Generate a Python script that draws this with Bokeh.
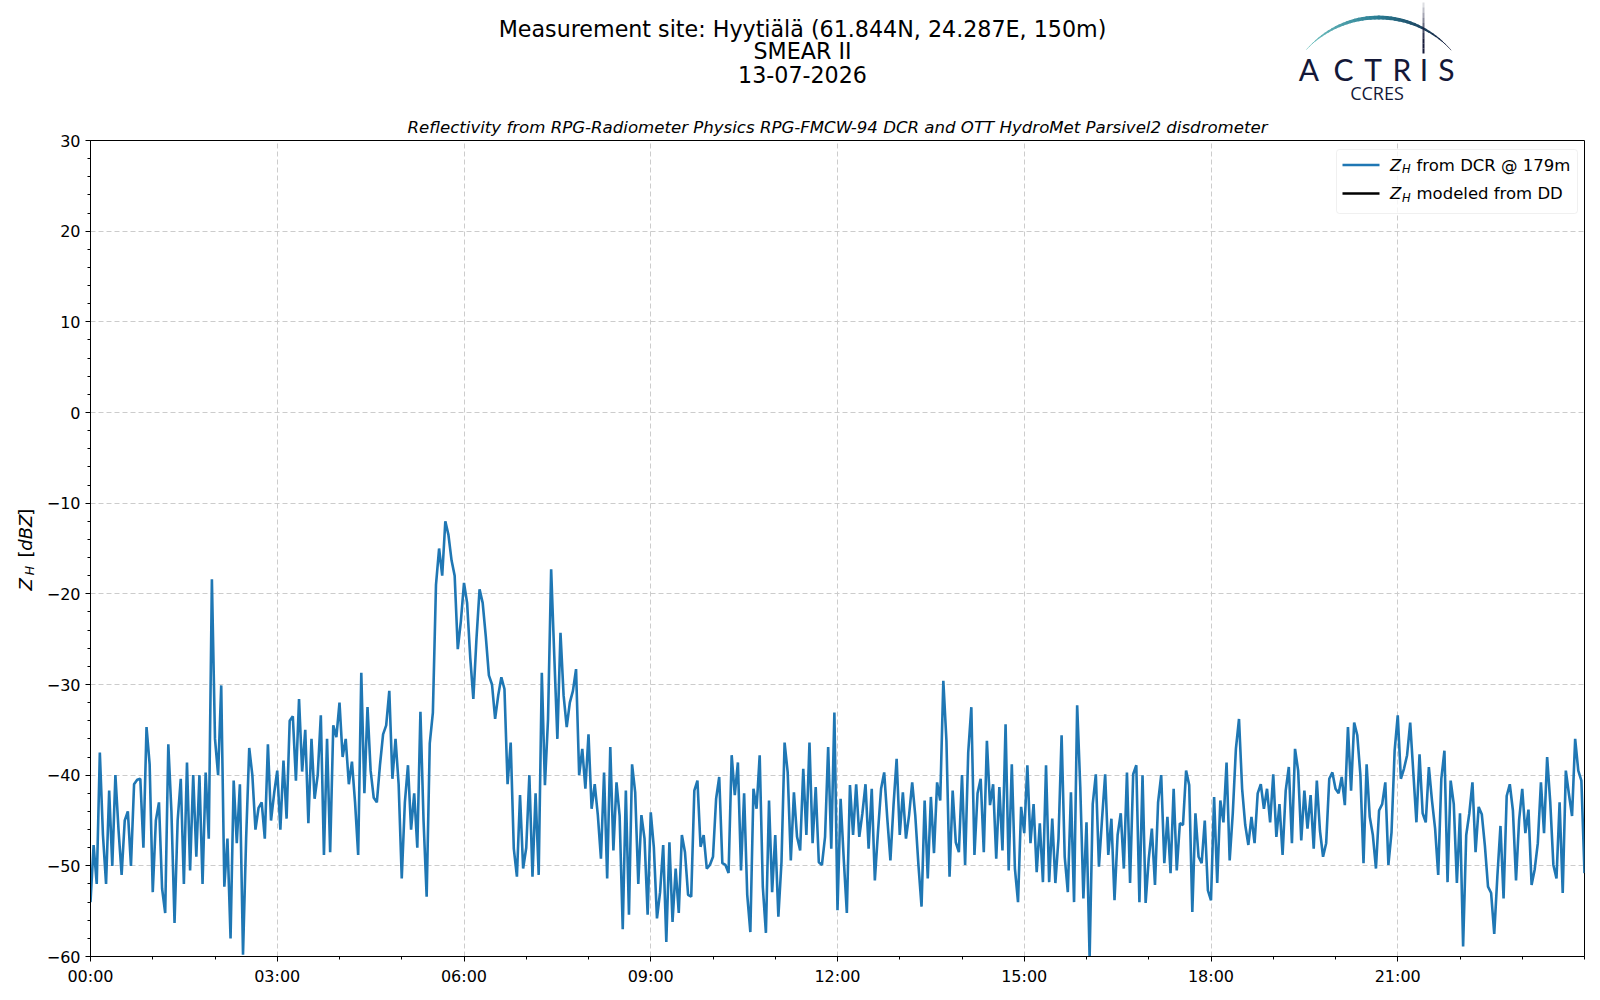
import datetime as dt

import numpy as np
import pandas as pd
from bokeh.plotting import figure
from bokeh.layouts import column, row
from bokeh.models import Range1d, FixedTicker, DatetimeTickFormatter, Label, Arrow, BoxAnnotation
from bokeh.core.properties import value
from bokeh.embed import file_html
from bokeh.resources import INLINE

# Z_H from the DCR at 179 m, one value every 3 minutes, one list per hour (13-07-2026)
h00 = [-54, -47.7, -52, -37.5, -46.6, -52, -41.7, -50, -40, -46, -51, -45, -44, -50, -41, -40.5, -40.4, -48, -34.7, -38.8]
h01 = [-52.9, -45, -43, -52.5, -55.2, -36.6, -44, -56.3, -45, -40.4, -52, -38.6, -50.5, -40, -49, -40, -52, -39.7, -47, -18.4]
h02 = [-36, -40, -30.1, -52.3, -47, -58, -40.6, -47.5, -41, -59.8, -47, -37, -40, -46, -43.6, -43, -47, -36.6, -45, -42]
h03 = [-39.5, -46, -38.4, -44.8, -34, -33.5, -40.6, -31.6, -39.6, -35, -45.3, -36, -42.6, -40, -33.4, -48.8, -36, -48.5, -34.5, -35.8]
h04 = [-32, -38, -36, -41, -38.5, -43, -48.8, -28.7, -42, -32.5, -39.5, -42.5, -43, -38.9, -35.5, -34.5, -30.7, -40.4, -36, -41]
h05 = [-51.4, -43, -38.9, -46, -42, -48, -33, -45, -53.4, -36.5, -33.1, -19, -15, -18, -12, -13.5, -16.3, -18, -26.1, -23]
h06 = [-18.8, -21, -27, -31.6, -25, -19.5, -21, -24.7, -29, -30, -33.8, -31.2, -29.2, -30.5, -41, -36.4, -48.1, -51.2, -42.2, -50.3]
h07 = [-48, -40, -51.2, -42, -51, -28.7, -41.1, -33.8, -17.3, -26.8, -36, -24.3, -31.2, -34.7, -32, -30.7, -28.3, -40, -37.1, -41.5]
h08 = [-35.5, -43.7, -41, -44.4, -49.2, -39.7, -51.4, -36.9, -48.3, -40.8, -44.5, -57, -41.7, -55.4, -38.8, -41.9, -52, -44.4, -47, -55.4]
h09 = [-44.1, -48, -55.8, -52.9, -47.7, -58.4, -47.4, -56.2, -50.3, -55.2, -46.6, -48.5, -53.2, -53.4, -41.7, -40.6, -47.9, -46.6, -50.3, -49.9]
h10 = [-49, -42.6, -40.2, -49.7, -49.9, -50.8, -37.8, -42.2, -38.6, -50.5, -42, -53.2, -57.3, -41.5, -43.7, -37.8, -52.3, -57.4, -42.8, -52.9]
h11 = [-46.6, -55.6, -49.6, -36.4, -39.7, -49.4, -41.9, -46.8, -48.3, -39.3, -46.6, -36.4, -47.5, -41.3, -49.6, -49.9, -46.8, -36.9, -48.1, -33.1]
h12 = [-54.9, -42.6, -49.2, -55.2, -41.1, -46.6, -41, -46.8, -44.2, -41, -48.1, -41.5, -51.6, -46.3, -41.5, -39.7, -44.8, -49.4, -43.3, -38.2]
h13 = [-46.6, -41.9, -47, -44.4, -40.8, -44.5, -49.9, -54.5, -42.8, -51.4, -42.4, -48.6, -40.8, -42.8, -29.6, -36.2, -51.2, -41.7, -47.4, -48.5]
h14 = [-40, -49.9, -37.5, -32.5, -48.8, -42, -40.4, -48.5, -36.2, -43.3, -41, -49.2, -41.3, -48.3, -34.4, -50.5, -38.8, -50.3, -54, -43.5]
h15 = [-46.4, -38.9, -47.5, -43.2, -50.7, -45.3, -51.8, -38.9, -51.8, -44.8, -51.9, -47, -35.6, -49, -52.9, -41.9, -54, -32.3, -41.3, -53.6]
h16 = [-45.2, -60.2, -43.2, -39.9, -50.1, -44.8, -39.9, -48.8, -44.8, -53.8, -46.6, -44.2, -50.3, -39.7, -51.9, -39.9, -38.9, -54, -40, -54.1]
h17 = [-49.2, -45.9, -52.1, -43, -40, -49.7, -44.6, -50.8, -41.5, -50.5, -45.3, -45.5, -39.5, -41.1, -55.1, -44.2, -49, -49.7, -45, -52.7]
h18 = [-53.8, -42.4, -51.9, -42.8, -45.2, -38.6, -49.4, -44.2, -37.1, -33.8, -41.5, -45.5, -47.7, -44.6, -47.5, -42, -41, -43.7, -41.5, -45.2]
h19 = [-39.9, -46.8, -43.2, -48.8, -41.7, -39.1, -47.5, -37.1, -39.5, -47.2, -41.7, -45.9, -42.2, -48.1, -40.6, -46.1, -49, -47.5, -40.4, -39.7]
h20 = [-41.5, -42, -40.2, -43.3, -34.7, -41.7, -34.2, -35.6, -40, -49.7, -38.8, -44.6, -46.6, -50.3, -43.9, -43.2, -40.8, -49.9, -46.3, -37.3]
h21 = [-33.4, -40.4, -39.3, -37.8, -34.2, -39.7, -45.2, -37.7, -44.2, -45.2, -39.1, -42.8, -45.9, -51, -40.4, -37.3, -51.8, -40.6, -43.2, -51.9]
h22 = [-44.2, -58.9, -46.6, -44.2, -40.8, -48.5, -43.5, -44.3, -47.8, -52.3, -53, -57.5, -51.2, -45.6, -53.6, -42.3, -41, -43.9, -51.6, -44.9]
h23 = [-41.5, -46.4, -43.8, -52.1, -50.4, -47.5, -40.8, -46.4, -38, -43, -49.9, -51.4, -43, -53, -39.5, -42.1, -44.5, -36, -39.5, -40.6]
h24 = [-50.8]

zh_dcr = (h00 + h01 + h02 + h03 + h04 + h05 + h06 + h07 + h08 + h09 + h10 + h11
          + h12 + h13 + h14 + h15 + h16 + h17 + h18 + h19 + h20 + h21 + h22 + h23 + h24)
zh_dd = []  # no disdrometer reflectivity this day

day = dt.datetime(2026, 7, 13)
times = pd.date_range(day, periods=len(zh_dcr), freq="3min")

x_major = pd.date_range(day, periods=8, freq="3h")
x_minor = pd.date_range(day, periods=25, freq="1h")
y_major = list(range(-60, 31, 10))
y_minor = list(range(-60, 31, 2))

title_lines = ["Measurement site: Hyytiälä (61.844N, 24.287E, 150m)", "SMEAR II", "13-07-2026"]
subtitle = "Reflectivity from RPG-Radiometer Physics RPG-FMCW-94 DCR and OTT HydroMet Parsivel2 disdrometer"
legend_labels = ["from DCR @ 179m", "modeled from DD"]
logo_letters = list("ACTRIS")

FONT = "DejaVu Sans"
BLUE = "#1f77b4"
NAVY = "#141838"

W, H = 1584, 984
HEAD_H = 104          # header strip (titles + logo)
YLAB_W = 43           # strip holding the y axis label


def blank(width, height, x0, x1, y0, y1):
    f = figure(width=width, height=height, x_range=Range1d(x0, x1), y_range=Range1d(y1, y0),
               min_border=0, x_axis_location=None, y_axis_location=None,
               output_backend="svg", toolbar_location=None)
    f.grid.visible = False
    f.outline_line_color = None
    f.background_fill_color = "white"
    f.border_fill_color = "white"
    return f


# ---------------- header: titles and logo (page pixel coordinates)
head = blank(W, HEAD_H, 0, W, 0, HEAD_H)
head.text(x=[802, 802, 802], y=[28, 50.5, 73.5], text=title_lines, text_font=value(FONT),
          text_font_size="22.2px", text_align="center", text_baseline="middle", text_color="black")


def mix(c0, c1, f):
    a = [int(c0[i:i + 2], 16) for i in (1, 3, 5)]
    b = [int(c1[i:i + 2], 16) for i in (1, 3, 5)]
    return "#" + "".join(f"{round(u + (v - u) * f):02x}" for u, v in zip(a, b))


cx, cy, r = 1378, 114, 97
n_seg = 40
frac = np.linspace(0, 1, n_seg + 1)
ang = np.radians(137.8 + (41.7 - 137.8) * frac)
mid = (frac[:-1] + frac[1:]) / 2
arc_cols = [mix("#78c8c4", "#2a7d94", m / 0.5) if m < 0.5 else mix("#2a7d94", NAVY, (m - 0.5) / 0.5) for m in mid]
arc_w = 0.6 + 3.2 * np.sin(np.pi * mid) ** 1.3
head.segment(x0=cx + r * np.cos(ang[:-1]), y0=cy - r * np.sin(ang[:-1]),
             x1=cx + r * np.cos(ang[1:]), y1=cy - r * np.sin(ang[1:]),
             line_color=arc_cols, line_width=arc_w, line_cap="round")

bar_y = np.linspace(2, 53, 11)
head.segment(x0=[1423] * 10, y0=bar_y[:-1], x1=[1423] * 10, y1=bar_y[1:], line_color=NAVY,
             line_width=2, line_alpha=[min(1.0, 0.15 + 0.12 * i) for i in range(10)])

head.text(x=[1308.5, 1343, 1372.5, 1401.5, 1423.5, 1446], y=[68] * 6, text=logo_letters,
          text_font=value("Lato"), text_font_size="30px", text_align="center",
          text_baseline="middle", text_color=NAVY)
head.text(x=[1376.5], y=[92.5], text=["CCRES"], text_font=value("Open Sans"), text_font_size="18px",
          text_align="center", text_baseline="middle", text_color=NAVY)

# ---------------- y axis label strip: Z_H [dBZ]
ylab = blank(YLAB_W, H - HEAD_H, 0, YLAB_W, HEAD_H, H)
ylab.text(x=[25, 25], y=[585, 529], text=["Z", "dBZ"], angle=np.pi / 2, text_font=value(FONT),
          text_font_style="italic", text_font_size="18px", text_align="center", text_baseline="middle")
ylab.text(x=[29], y=[570], text=["H"], angle=np.pi / 2, text_font=value(FONT),
          text_font_style="italic", text_font_size="12.5px", text_align="center", text_baseline="middle")
ylab.text(x=[25, 25], y=[552, 507], text=["[", "]"], angle=np.pi / 2, text_font=value(FONT),
          text_font_size="18px", text_align="center", text_baseline="middle")

# ---------------- main plot
p = figure(x_axis_type="datetime", frame_width=1494, frame_height=816,
           min_border_left=88 - YLAB_W, min_border_right=2, min_border_top=140 - HEAD_H, min_border_bottom=28,
           x_range=Range1d(day, day + dt.timedelta(days=1)), y_range=Range1d(-60, 30),
           output_backend="svg", toolbar_location=None)

p.line(times, zh_dcr, line_color=BLUE, line_width=2.6)
p.line(times[:0], zh_dd, line_color="black", line_width=2.6)

p.title.text = subtitle
p.title.align = "center"
p.title.text_font = FONT
p.title.text_font_style = "italic"
p.title.text_font_size = "16.6px"
p.title.text_color = "black"
p.title.standoff = 8

p.xaxis.ticker = FixedTicker(ticks=[t.value / 1e6 for t in x_major], minor_ticks=[t.value / 1e6 for t in x_minor])
p.xaxis.formatter = DatetimeTickFormatter(minutes="%H:%M", hourmin="%H:%M", hours="%H:%M", days="%H:%M")
p.yaxis.ticker = FixedTicker(ticks=y_major, minor_ticks=y_minor)
p.yaxis.major_label_overrides = {v: str(v).replace("-", "\u2212") for v in y_major}

for ax in (p.xaxis[0], p.yaxis[0]):
    ax.axis_line_color = "black"
    ax.major_tick_line_color = "black"
    ax.minor_tick_line_color = "black"
    ax.major_tick_in = 0
    ax.major_tick_out = 5
    ax.minor_tick_in = 0
    ax.minor_tick_out = 3
    ax.major_label_text_font = FONT
    ax.major_label_text_font_size = "16px"
    ax.major_label_text_color = "black"
    ax.major_label_standoff = 5

for g in (p.xgrid[0], p.ygrid[0]):
    g.grid_line_color = "#cccccc"
    g.grid_line_dash = "5 3"
    g.grid_line_width = 1

p.outline_line_color = "black"
p.outline_line_width = 1
p.outline_line_alpha = 1
p.background_fill_color = "white"
p.border_fill_color = "white"

# legend, placed in pixels relative to the plot frame (page: frame left 88, bottom 956)
LEFT, BOTTOM = 88, 956


def label(text, x, y, size, style="normal"):
    p.add_layout(Label(x=x - LEFT, y=BOTTOM - y, x_units="screen", y_units="screen", text=text,
                       text_font=FONT, text_font_size=f"{size}px", text_font_style=style,
                       text_color="black", text_align="left", text_baseline="middle"))


p.add_layout(BoxAnnotation(left=1334 - LEFT, right=1575 - LEFT, top=BOTTOM - 149, bottom=BOTTOM - 213,
                           left_units="screen", right_units="screen", top_units="screen", bottom_units="screen",
                           fill_color="white", fill_alpha=0.8, line_color="#cccccc", line_width=1,
                           border_radius=3))
for text, color, y in zip(legend_labels, [BLUE, "black"], [164.5, 193]):
    p.add_layout(Arrow(start=None, end=None, x_start=1340 - LEFT, y_start=BOTTOM - y,
                       x_end=1377 - LEFT, y_end=BOTTOM - y, start_units="screen", end_units="screen",
                       line_color=color, line_width=2.6))
    label("Z", 1387.5, y, 16.5, style="italic")
    label("H", 1399.5, y + 4, 11.5, style="italic")
    label(text, 1414, y, 16.5)

layout = column(head, row(ylab, p))
open("out.html", "w").write(file_html(layout, INLINE))
